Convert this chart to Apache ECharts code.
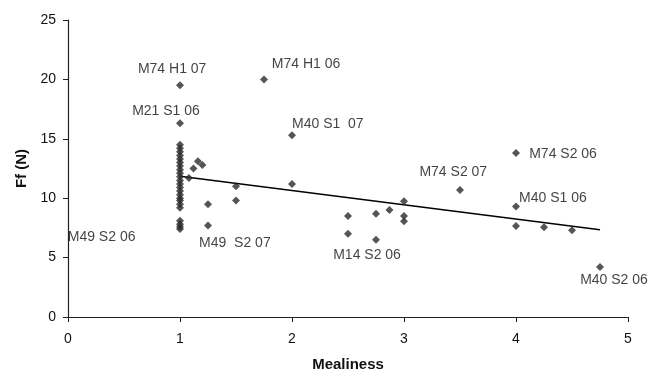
<!DOCTYPE html>
<html><head><meta charset="utf-8">
<script src="https://cdn.jsdelivr.net/npm/echarts@6/dist/echarts.min.js"></script>
<style>html,body{margin:0;padding:0;background:#fff}#c{width:648px;height:377px}</style>
</head><body><div id="c"></div>
<script>
// Mealiness (x) and Ff (N) (y) observations
const pointsX = [1,1,1,1,1,1,1,1,1,1,1,1,1,1,1,1,1,1,1,1,1,1,1,1,1,
  1.08,1.12,1.16,1.2,1.25,1.25,1.5,1.5,1.75,2,2,2.5,2.5,2.75,2.75,2.87,3,3,3,3.5,4,4,4,4.25,4.5,4.75];
const pointsY = [19.5,16.3,14.5,14.2,13.9,13.6,13.3,13.0,12.7,12.4,12.1,11.8,11.5,11.2,10.9,10.6,10.3,10.0,9.8,9.5,9.2,8.1,7.8,7.6,7.4,
  11.7,12.5,13.1,12.8,9.5,7.7,11.0,9.8,20.0,15.3,11.2,8.5,7.0,8.7,6.5,9.0,9.75,8.5,8.05,10.7,13.8,9.3,7.65,7.55,7.3,4.2];
// trend line end points
const trendX = [1, 4.75];
const trendY = [11.85, 7.35];
// annotation labels (text and data position of text centre)
const labelText = ['M74 H1 07','M21 S1 06','M49 S2 06','M49  S2 07','M74 H1 06','M40 S1  07','M14 S2 06','M74 S2 07','M74 S2 06','M40 S1 06','M40 S2 06'];
const labelX = [0.93,0.875,0.30,1.49,2.125,2.32,2.67,3.44,4.42,4.33,4.875];
const labelY = [20.9,17.3,6.75,6.25,21.3,16.2,5.2,12.2,13.75,10.0,3.1];
const xTicks = [0,1,2,3,4,5];
const yTicks = [0,5,10,15,20,25];

const font = '"Liberation Sans", Arial, sans-serif';
const chart = echarts.init(document.getElementById('c'), null, {renderer:'canvas'});
chart.setOption({
  animation:false,
  backgroundColor:'#fff',
  grid:{left:68,right:20,top:20,bottom:57},
  xAxis:{type:'value',min:xTicks[0],max:xTicks[xTicks.length-1],interval:1,
    name:'Mealiness',nameLocation:'middle',nameGap:40,
    nameTextStyle:{fontFamily:font,fontSize:15,fontWeight:'bold',color:'#111'},
    axisLine:{show:true,lineStyle:{color:'#222',width:1.2}},
    axisTick:{show:true,inside:false,length:5,lineStyle:{color:'#222'}},
    axisLabel:{fontFamily:font,fontSize:14,color:'#111',margin:15},
    splitLine:{show:false}},
  yAxis:{type:'value',min:yTicks[0],max:yTicks[yTicks.length-1],interval:5,
    name:'Ff (N)',nameLocation:'middle',nameGap:17,
    nameTextStyle:{fontFamily:font,fontSize:15,fontWeight:'bold',color:'#111'},
    axisLine:{show:true,lineStyle:{color:'#222',width:1.2}},
    axisTick:{show:true,inside:false,length:5,lineStyle:{color:'#222'}},
    axisLabel:{fontFamily:font,fontSize:14,color:'#111',margin:12},
    splitLine:{show:false}},
  series:[
    {type:'line',data:trendX.map((x,i)=>[x,trendY[i]]),symbol:'none',
      lineStyle:{color:'#000',width:1.5},z:2},
    {type:'scatter',data:pointsX.map((x,i)=>[x,pointsY[i]]),symbol:'diamond',symbolSize:8,
      itemStyle:{color:'#2a2a2a'},z:3},
    {type:'scatter',data:labelX.map((x,i)=>({value:[x,labelY[i]],name:labelText[i]})),
      symbolSize:0,silent:true,clip:false,
      label:{show:true,position:'inside',formatter:p=>p.name,
        fontFamily:font,fontSize:14,color:'#111'},z:4}
  ]
});
</script></body></html>
